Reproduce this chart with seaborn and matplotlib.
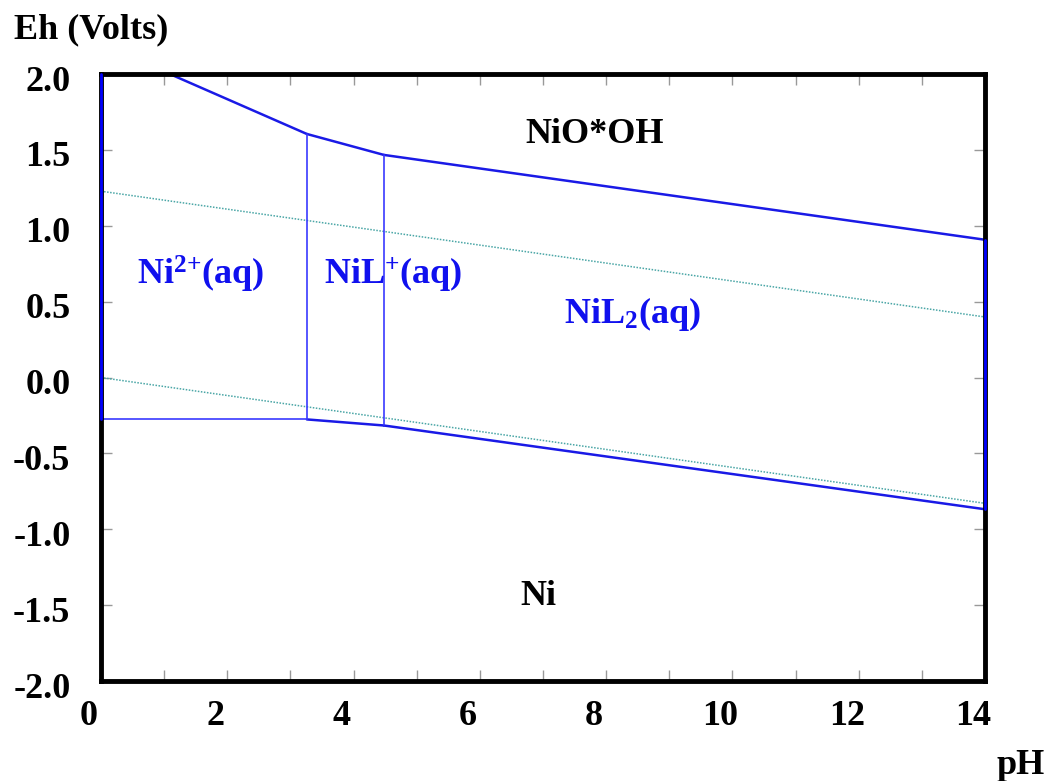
import matplotlib
matplotlib.use("Agg")
import matplotlib.pyplot as plt
import matplotlib.transforms as mtransforms
import numpy as np
import pandas as pd
import seaborn as sns

# Eh-pH (Pourbaix) diagram for nickel with a ligand L

# Stability-field boundaries: (pH, Eh) end points of each segment
ni2_niooh_ph = [1.09, 3.26]
ni2_niooh_eh = [2.00, 1.605]
nil_niooh_ph = [3.26, 4.48]
nil_niooh_eh = [1.605, 1.467]
nil2_niooh_ph = [4.48, 14.0]
nil2_niooh_eh = [1.467, 0.908]
ni2_ni_ph = [0.0, 3.26]
ni2_ni_eh = [-0.276, -0.276]
nil_ni_ph = [3.26, 4.48]
nil_ni_eh = [-0.276, -0.316]
nil2_ni_ph = [4.48, 14.0]
nil2_ni_eh = [-0.316, -0.868]
ni2_nil_ph = [3.26, 3.26]
ni2_nil_eh = [1.605, -0.276]
nil_nil2_ph = [4.48, 4.48]
nil_nil2_eh = [1.467, -0.316]
left_edge_ph = [0.0, 0.0]
left_edge_eh = [2.0, -0.276]
right_edge_ph = [14.0, 14.0]
right_edge_eh = [0.908, -0.868]

# Water stability limits
o2_h2o_ph = [0.0, 14.0]
o2_h2o_eh = [1.228, 0.399]
h2o_h2_ph = [0.0, 14.0]
h2o_h2_eh = [0.0, -0.829]

# Field labels: text, pH, Eh, colour
field_labels = ["NiO*OH", r"Ni$^{2{+}}$(aq)", r"NiL$^{{+}}$(aq)",
                r"NiL$_{2}$(aq)", "Ni"]
field_ph = [7.81, 1.57, 4.63, 8.42, 6.93]
field_eh = [1.60, 0.68, 0.67, 0.42, -1.44]
field_colors = ["black", "#1010ee", "#1010ee", "#1010ee", "black"]

x_ticks = list(range(0, 15))
x_ticklabels = ["0", "", "2", "", "4", "", "6", "", "8", "", "10", "", "12", "", "14"]
y_ticks = [2.0, 1.5, 1.0, 0.5, 0.0, -0.5, -1.0, -1.5, -2.0]
y_ticklabels = ["2.0", "1.5", "1.0", "0.5", "0.0", "-0.5", "-1.0", "-1.5", "-2.0"]

sns.set_theme(style="white")
plt.rcParams["font.family"] = ["Liberation Serif", "DejaVu Serif"]
plt.rcParams["font.weight"] = "bold"
plt.rcParams["text.color"] = "black"
plt.rcParams["xtick.labelcolor"] = "black"
plt.rcParams["ytick.labelcolor"] = "black"
plt.rcParams["mathtext.fontset"] = "custom"
plt.rcParams["mathtext.rm"] = "Liberation Serif:bold"
plt.rcParams["mathtext.bf"] = "Liberation Serif:bold"
plt.rcParams["mathtext.it"] = "Liberation Serif:bold"

FS = 26

fig = plt.figure(figsize=(10.48, 7.81), dpi=100)
ax = fig.add_axes([0.0964, 0.128, 0.8435, 0.7772])

blue = "#1a1ae6"
slanted = [
    (ni2_niooh_ph, ni2_niooh_eh), (nil_niooh_ph, nil_niooh_eh),
    (nil2_niooh_ph, nil2_niooh_eh), (nil_ni_ph, nil_ni_eh),
    (nil2_ni_ph, nil2_ni_eh),
]
straight = [
    (ni2_ni_ph, ni2_ni_eh), (ni2_nil_ph, ni2_nil_eh), (nil_nil2_ph, nil_nil2_eh),
]
edges = [(left_edge_ph, left_edge_eh), (right_edge_ph, right_edge_eh)]

for ph, eh in [(o2_h2o_ph, o2_h2o_eh), (h2o_h2_ph, h2o_h2_eh)]:
    sns.lineplot(x=ph, y=eh, ax=ax, color="#4aa6a6", lw=1.1,
                 linestyle=(0, (1, 1)), sort=False, estimator=None)

for ph, eh in slanted:
    sns.lineplot(x=ph, y=eh, ax=ax, color=blue, lw=1.8, sort=False, estimator=None)
for ph, eh in straight:
    sns.lineplot(x=ph, y=eh, ax=ax, color="#3a3aff", lw=1.2, sort=False, estimator=None)
for ph, eh in edges:
    sns.lineplot(x=ph, y=eh, ax=ax, color="#0000ff", lw=2.0, sort=False,
                 estimator=None, clip_on=False, zorder=5)

for text, px, py, c in zip(field_labels, field_ph, field_eh, field_colors):
    ax.text(px, py, text, color=c, fontsize=FS, fontweight="bold",
            ha="center", va="center")

ax.set_xlim(0, 14)
ax.set_ylim(-2.0, 2.0)
ax.set_xticks(x_ticks)
ax.set_xticklabels(x_ticklabels, fontsize=FS, fontweight="bold", color="black")
ax.set_yticks(y_ticks)
ax.set_yticklabels(y_ticklabels, fontsize=FS, fontweight="bold", color="black")
ax.tick_params(axis="both", direction="in", length=8, width=1, color="#999999",
               top=True, right=True, bottom=True, left=True)
ax.tick_params(axis="x", pad=14)
ax.tick_params(axis="y", pad=22)

# tick labels sit slightly left of (x) and below (y) their ticks
x_offset = mtransforms.ScaledTranslation(-12 / 100, 0, fig.dpi_scale_trans)
for lbl in ax.get_xticklabels():
    lbl.set_transform(lbl.get_transform() + x_offset)
y_offset = mtransforms.ScaledTranslation(0, -4 / 100, fig.dpi_scale_trans)
for lbl in ax.get_yticklabels():
    lbl.set_transform(lbl.get_transform() + y_offset)

for side in ["left", "bottom", "top", "right"]:
    ax.spines[side].set_visible(True)
    ax.spines[side].set_color("black")
    ax.spines[side].set_linewidth(3.5)

ax.set_xlabel("")
ax.set_ylabel("")
fig.text(0.013, 0.962, "Eh (Volts)", fontsize=FS, fontweight="bold",
         ha="left", va="center", color="black")
fig.text(0.974, 0.02, "pH", fontsize=FS, fontweight="bold",
         ha="center", va="center", color="black")

fig.savefig("out.png", dpi=100, facecolor="white")
